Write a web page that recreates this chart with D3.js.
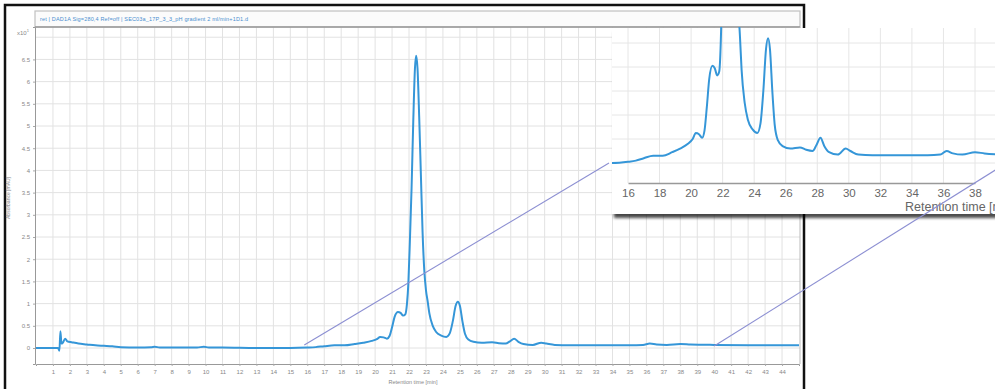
<!DOCTYPE html>
<html lang="en">
<head>
<meta charset="UTF-8">
<title>Chromatogram with zoomed inset</title>
<script src="https://d3js.org/d3.v7.min.js"></script>
<style>
  body { margin: 0; background: #fff; }
  text { font-family: "Liberation Sans", Arial, sans-serif; }
</style>
</head>
<body>
<script>
// retention time [min] and absorbance (x10 mAU)
var times = [0, 1.0, 1.3, 1.38, 1.44, 1.5, 1.58, 1.72, 1.85, 2.1, 2.5, 3.0, 3.5, 4.0, 4.5, 5.0, 6.0, 6.8, 7.0, 7.3,
  9.5, 9.9, 10.2, 11.0, 13, 15, 16, 16.5, 17.0, 17.6, 18.2, 18.8, 19.3, 19.8, 20.1, 20.3, 20.5, 20.7, 20.85,
  21.0, 21.15, 21.35, 21.5, 21.65, 21.78, 21.88, 21.96, 22.05, 22.15, 22.25, 22.35, 22.42, 22.5, 22.6, 22.7,
  22.8, 22.9, 23.0, 23.1, 23.2, 23.4, 23.6, 23.9, 24.2, 24.4, 24.58, 24.75, 24.88, 25.0, 25.15, 25.3, 25.5,
  25.8, 26.3, 26.9, 27.3, 27.7, 27.95, 28.2, 28.45, 28.75, 29.3, 29.8, 30.1, 30.6, 31.5, 33, 35, 35.8, 36.2,
  36.6, 37.2, 38, 38.6, 40, 42, 45];
var absorbance = [0, 0, 0, -0.06, 0.38, 0.1, 0.12, 0.21, 0.15, 0.13, 0.1, 0.08, 0.06, 0.05, 0.04, 0.02, 0.01, 0.02, 0.03, 0.01,
  0.01, 0.03, 0.01, 0.01, 0, 0, 0.01, 0.02, 0.04, 0.06, 0.06, 0.09, 0.12, 0.16, 0.2, 0.25, 0.24, 0.21, 0.27,
  0.47, 0.7, 0.81, 0.79, 0.73, 0.76, 1.0, 1.45, 2.4, 3.6, 5.1, 6.3, 6.58, 6.3, 5.2, 3.9,
  2.6, 1.75, 1.3, 1.05, 0.78, 0.5, 0.36, 0.28, 0.25, 0.33, 0.6, 0.95, 1.04, 0.95, 0.6, 0.32, 0.19,
  0.14, 0.12, 0.13, 0.11, 0.1, 0.15, 0.21, 0.14, 0.09, 0.07, 0.12, 0.1, 0.07, 0.065, 0.065, 0.065, 0.07, 0.1,
  0.08, 0.07, 0.09, 0.08, 0.07, 0.065, 0.065];

var xTicks = d3.range(1, 45);
var yTicks = [0, 0.5, 1, 1.5, 2, 2.5, 3, 3.5, 4, 4.5, 5, 5.5, 6, 6.5];
var insetTicks = [16, 18, 20, 22, 24, 26, 28, 30, 32, 34, 36, 38];
var insetGrid = [0, 0.2, 0.4, 0.6, 0.8, 1.0];
var zoomFrom = 16, zoomTo = 40;
var title = "ret | DAD1A Sig=280,4  Ref=off | SEC03a_17P_3_3_pH gradient 2 ml/min+1D1.d";

var W = 995, H = 389;
var data = times.map(function(t, i) { return [t, absorbance[i]]; });

var svg = d3.select("body").append("svg")
    .attr("width", W)
    .attr("height", H);

var defs = svg.append("defs");
var sh = defs.append("filter").attr("id", "shadow")
    .attr("x", "-5%").attr("y", "-5%").attr("width", "115%").attr("height", "120%");
sh.append("feDropShadow").attr("dx", 2).attr("dy", 4).attr("stdDeviation", 1.6)
    .attr("flood-color", "#000").attr("flood-opacity", 0.7);

// main plot
var x = d3.scaleLinear().domain([0, 45]).range([36, 799]);
var y = d3.scaleLinear().domain([-0.36, 7.23]).range([364, 27]);

defs.append("clipPath").attr("id", "mainClip")
  .append("rect").attr("x", 36).attr("y", 27).attr("width", 764).attr("height", 337);

// black outer frame
svg.append("rect")
    .attr("x", 5).attr("y", 5).attr("width", 799).attr("height", 400)
    .attr("fill", "#fff").attr("stroke", "#111").attr("stroke-width", 2.5);

// grid
var grid = svg.append("g").attr("stroke", "#e2e2e2").attr("stroke-width", 1);
grid.selectAll(".vg").data(xTicks).enter().append("line")
    .attr("x1", function(d){ return x(d); }).attr("x2", function(d){ return x(d); })
    .attr("y1", 27).attr("y2", 364);
grid.selectAll(".hg").data(yTicks.concat([7])).enter().append("line")
    .attr("x1", 36).attr("x2", 800)
    .attr("y1", function(d){ return y(d); }).attr("y2", function(d){ return y(d); });

// title box
svg.append("rect").attr("x", 35).attr("y", 11).attr("width", 765).attr("height", 16)
    .attr("fill", "#fbfbfb").attr("stroke", "#c0c0c0").attr("stroke-width", 1.2);
svg.append("line").attr("x1", 35).attr("x2", 800).attr("y1", 27).attr("y2", 27)
    .attr("stroke", "#999").attr("stroke-width", 1.5);
svg.append("text").attr("x", 40).attr("y", 21).attr("font-size", 5.5)
    .attr("fill", "#4a8fd0").attr("textLength", 208).text(title);

// axes
var xAxis = d3.axisBottom(x).tickValues(xTicks).tickSize(2).tickFormat(d3.format("d"));
var gx = svg.append("g").attr("transform", "translate(0,364)").call(xAxis);
gx.select(".domain").attr("stroke", "#999");
gx.selectAll(".tick line").attr("stroke", "#aaa");
gx.selectAll("text").attr("font-size", 6).attr("fill", "#888").attr("dy", "0.9em");

var yAxis = d3.axisLeft(y).tickValues(yTicks).tickSize(2).tickFormat(function(d){ return d; });
var gy = svg.append("g").attr("transform", "translate(35,0)").call(yAxis);
gy.select(".domain").attr("stroke", "#999");
gy.selectAll(".tick line").attr("stroke", "#aaa");
gy.selectAll("text").attr("font-size", 6).attr("fill", "#888");

svg.append("line").attr("x1", 800).attr("x2", 800).attr("y1", 27).attr("y2", 364)
    .attr("stroke", "#bbb");

var scaleLbl = svg.append("text").attr("x", 17).attr("y", 35).attr("font-size", 6).attr("fill", "#888");
scaleLbl.append("tspan").text("x10");
scaleLbl.append("tspan").attr("dy", -3).attr("font-size", 4).text("1");

svg.append("text").attr("transform", "translate(10,198) rotate(-90)")
    .attr("text-anchor", "middle").attr("font-size", 5).attr("fill", "#888")
    .text("Absorbance [mAU]");
svg.append("text").attr("x", 413).attr("y", 384).attr("text-anchor", "middle")
    .attr("font-size", 5.5).attr("fill", "#888").text("Retention time [min]");

var line = d3.line()
    .x(function(d){ return x(d[0]); })
    .y(function(d){ return y(d[1]); })
    .curve(d3.curveMonotoneX);

svg.append("path").datum(data)
    .attr("clip-path", "url(#mainClip)")
    .attr("d", line)
    .attr("fill", "none").attr("stroke", "#3596d8").attr("stroke-width", 2);

// inset (zoomed view)
var xi = d3.scaleLinear().domain([16, 38]).range([628, 975]);
var yi = d3.scaleLinear().domain([0, 1]).range([163, 43]);
var inL = 612, inT = 28, inR = 1000, inB = 214;

svg.append("rect").attr("x", inL).attr("y", inT).attr("width", inR - inL).attr("height", inB - inT)
    .attr("fill", "#fff").attr("filter", "url(#shadow)");

defs.append("clipPath").attr("id", "insetClip")
  .append("rect").attr("x", inL).attr("y", inT - 1).attr("width", inR - inL).attr("height", 183 - inT + 1);

var ig = svg.append("g").attr("stroke", "#e6e6e6").attr("stroke-width", 1);
ig.selectAll(".ivg").data(insetTicks.concat([40])).enter().append("line")
    .attr("x1", function(d){ return xi(d); }).attr("x2", function(d){ return xi(d); })
    .attr("y1", inT).attr("y2", 183);
ig.selectAll(".ihg").data(insetGrid).enter().append("line")
    .attr("x1", inL).attr("x2", inR)
    .attr("y1", function(d){ return yi(d); }).attr("y2", function(d){ return yi(d); });

var xiAxis = d3.axisBottom(xi).tickValues(insetTicks).tickSize(0).tickPadding(6).tickFormat(d3.format("d"));
var gxi = svg.append("g").attr("transform", "translate(0,183)").call(xiAxis);
gxi.select(".domain").attr("stroke", "#999").attr("stroke-width", 1.5);
gxi.selectAll("text").attr("font-size", 11.5).attr("fill", "#666");

// axis title runs past the right edge, as in the original screenshot
svg.append("text").attr("x", 905).attr("y", 211).attr("font-size", 12.5).attr("fill", "#666")
    .text("Retention time [min]");

var iline = d3.line()
    .x(function(d){ return xi(d[0]); })
    .y(function(d){ return yi(d[1]); })
    .curve(d3.curveMonotoneX);

svg.append("path").datum(data)
    .attr("clip-path", "url(#insetClip)")
    .attr("d", iline)
    .attr("fill", "none").attr("stroke", "#3596d8").attr("stroke-width", 2);

// connector lines
var conn = svg.append("g").attr("stroke", "#8c8fd2").attr("stroke-width", 1.1);
conn.append("line")
    .attr("x1", x(zoomFrom) - 3).attr("y1", y(0) - 3)
    .attr("x2", inL - 3).attr("y2", yi(0));
conn.append("line")
    .attr("x1", x(zoomTo)).attr("y1", y(0) - 2)
    .attr("x2", xi(zoomTo)).attr("y2", yi(0));
</script>
</body>
</html>
